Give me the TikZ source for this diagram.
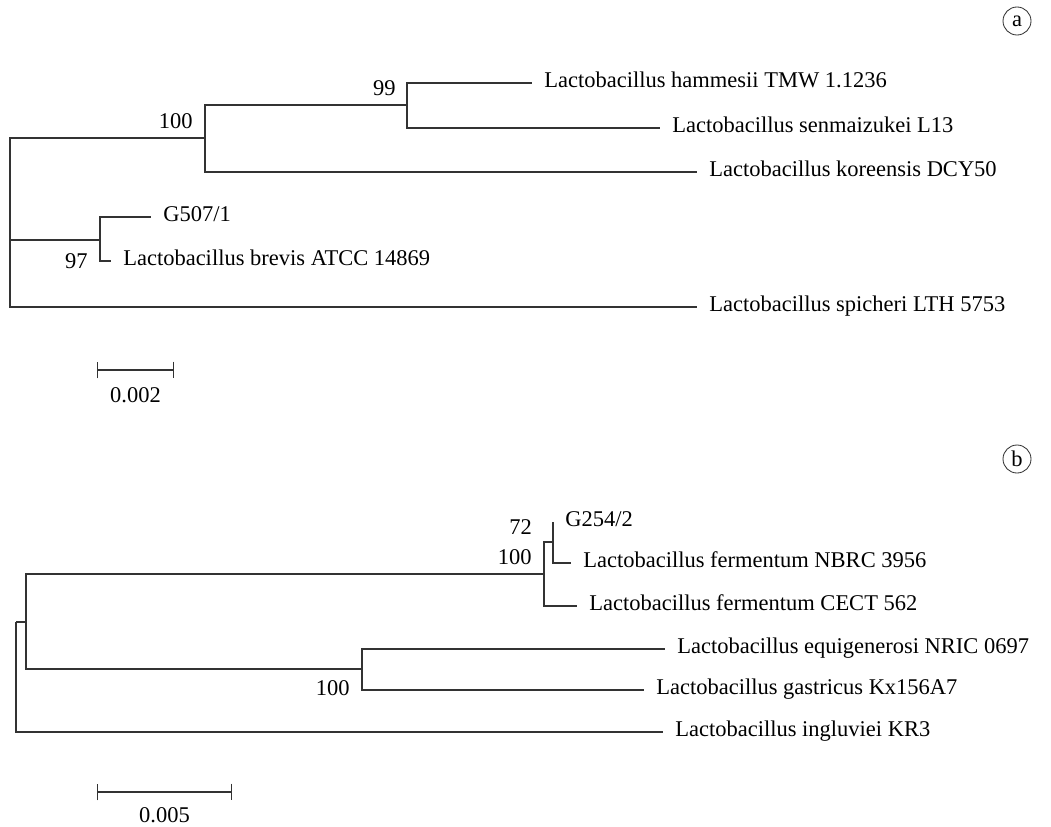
\documentclass[tikz,border=0pt]{standalone}
\usepackage{fontspec}
\setmainfont{Liberation Serif}
\usetikzlibrary{positioning, arrows.meta}
\tikzset{
  branch/.style={draw=black!80, line width=0.8pt},
  taxon/.style={
    inner sep=0pt,
    text height=10pt, text depth=3pt,
    font=\fontsize{16}{19}\selectfont
  },
  % Valori di bootstrap
  support/.style={inner sep=0pt, font=\fontsize{16}{19}\selectfont},
  scalebar/.style={{Bar[width=0.42cm]}-{Bar[width=0.42cm]}, draw=black!80, line width=0.8pt},
  panel/.style={circle, draw=black!80, line width=0.6pt, inner sep=0pt,
    minimum size=0.7cm, font=\fontsize{16}{19}\selectfont}
}

\begin{document}
\begin{tikzpicture}[x=0.025cm, y=-0.025cm]
\useasboundingbox (0,0) rectangle (1051,827);

% Pannello (a) - nodi interni e foglie
\coordinate (aroot) at (10,240);
\coordinate (a100) at (205,138);
\coordinate (a99) at (407,105);
\coordinate (a97) at (100,240);
\coordinate (tham) at (532,83);
\coordinate (tsen) at (660,128);
\coordinate (tkor) at (697,172);
\coordinate (tg507) at (151,217);
\coordinate (tbrev) at (111,261);
\coordinate (tspi) at (697,307);
\coordinate (a97c) at (a97 |- tbrev);

\draw[branch] (aroot) |- (a100);
\draw[branch] (aroot) -- (a97);
\draw[branch] (aroot) |- (tspi);
\draw[branch] (a100) |- (a99);
\draw[branch] (a100) |- (tkor);
\draw[branch] (a99) |- (tham);
\draw[branch] (a99) |- (tsen);
\draw[branch] (a97) |- (tg507);
\draw[branch] (a97) |- (tbrev);

\node[taxon, right=0.3cm of tham] (lham) {Lactobacillus hammesii TMW 1.1236};
\node[taxon, right=0.3cm of tsen] (lsen) {Lactobacillus senmaizukei L13};
\node[taxon, right=0.3cm of tkor] (lkor) {Lactobacillus koreensis DCY50};
\node[taxon, right=0.3cm of tg507] (lg507) {G507/1};
\node[taxon, right=0.3cm of tbrev] (lbrev) {Lactobacillus brevis ATCC 14869};
\node[taxon, right=0.3cm of tspi] (lspi) {Lactobacillus spicheri LTH 5753};

\node[support, above left=0.22cm and 0.3cm of a100] (s100a) {100};
\node[support, above left=0.22cm and 0.28cm of a99] (s99) {99};
\node[support, left=0.3cm of a97c] (s97) {97};

% Barra di scala (a)
\coordinate (sa1) at (97,370);
\coordinate (sa2) at (174,370);
\draw[scalebar] (sa1) -- node[support, below=0.42cm] (lsa) {0.002} (sa2);

\node[panel] (pa) at (1017,21) {a};

% Pannello (b) - nodi interni e foglie
\coordinate (broot) at (16,622);
\coordinate (b1) at (26,622);
\coordinate (bferm) at (544,574);
\coordinate (binner) at (553,542);
\coordinate (bequi) at (362,669);
\coordinate (tg254) at (553,522);
\coordinate (tnbrc) at (571,563);
\coordinate (tcect) at (577,606);
\coordinate (tequi) at (665,649);
\coordinate (tgast) at (644,690);
\coordinate (tingl) at (663,732);

\draw[branch] (broot) -- (b1);
\draw[branch] (broot) |- (tingl);
\draw[branch] (b1) |- (bferm);
\draw[branch] (b1) |- (bequi);
\draw[branch] (bferm) |- (binner);
\draw[branch] (bferm) |- (tcect);
\draw[branch] (binner) -- (tg254);
\draw[branch] (binner) |- (tnbrc);
\draw[branch] (bequi) |- (tequi);
\draw[branch] (bequi) |- (tgast);

\node[taxon, right=0.3cm of tg254] (lg254) {G254/2};
\node[taxon, right=0.3cm of tnbrc] (lnbrc) {Lactobacillus fermentum NBRC 3956};
\node[taxon, right=0.3cm of tcect] (lcect) {Lactobacillus fermentum CECT 562};
\node[taxon, right=0.3cm of tequi] (lequi) {Lactobacillus equigenerosi NRIC 0697};
\node[taxon, right=0.3cm of tgast] (lgast) {Lactobacillus gastricus Kx156A7};
\node[taxon, right=0.3cm of tingl] (lingl) {Lactobacillus ingluviei KR3};

\node[support, above left=0.18cm and 0.52cm of binner] (s72) {72};
\node[support, above left=0.22cm and 0.3cm of bferm] (s100b) {100};
\node[support, below left=0.28cm and 0.3cm of bequi] (s100c) {100};

% Barra di scala (b)
\coordinate (sb1) at (97,792);
\coordinate (sb2) at (232,792);
\draw[scalebar] (sb1) -- node[support, below=0.38cm] (lsb) {0.005} (sb2);

\node[panel] (pb) at (1017,459) {b};

\end{tikzpicture}
\end{document}
